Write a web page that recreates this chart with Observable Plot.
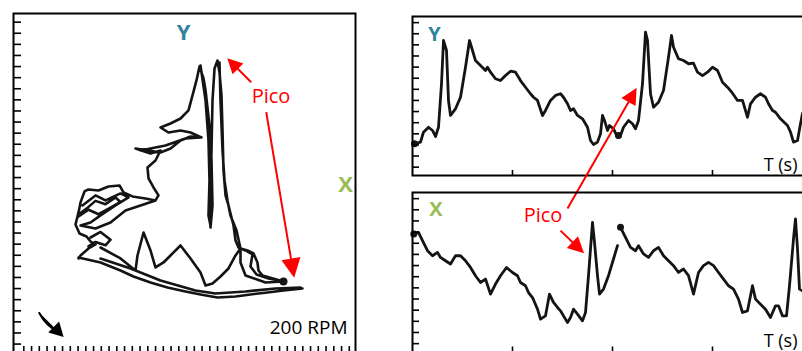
<!DOCTYPE html>
<html><head><meta charset="utf-8">
<script src="https://cdn.jsdelivr.net/npm/d3@7"></script>
<script src="https://cdn.jsdelivr.net/npm/@observablehq/plot@0.6"></script>
<style>
html,body{margin:0;padding:0;background:#fff;overflow:hidden;}
#chart{position:relative;width:802px;height:351px;overflow:hidden;background:#fff;}
#chart svg{position:absolute;left:0;top:0;max-width:none !important;}
</style></head><body><div id="chart"></div>
<script>
// ---------- Orbit (Y vs X), strokes separated by null ----------
const orbitX = [
 33.51,31.57,30.03,29.25,29.51,28.61,27.70,27.32,27.06,26.41,26.03,25.77,25.64,25.51,25.25,24.99,24.61,24.35,24.22,24.09,
 24.09,24.35,24.22,23.96,23.45,23.19,22.67,22.28,21.77,21.25,20.22,18.93,17.64,18.67,20.22,21.51,22.93,21.51,20.22,18.93,
 17.64,16.09,14.41,16.35,17.64,16.99,15.96,16.09,16.74,17.38,16.99,15.70,14.03,12.86,12.35,10.93,9.64,8.35,7.83,7.32,
 7.06,6.67,7.19,8.09,8.61,9.25,8.35,7.32,7.06, null,
 7.06,9.90,12.48,14.15,16.35,18.54,20.86,22.80,24.99,27.32,29.25,31.45,33.51,35.96, null,
 9.90,13.77,17.64,22.15,24.74,28.61,32.48,35.70, null,
 9.90,12.48,14.41,14.67,15.45,16.35,16.99,18.03,18.93,20.22,21.51,22.80,23.45,24.35,25.38,26.41,27.32,27.96,28.86,29.64,30.15,30.28,30.80,33.51, null,
 22.80,23.45,23.83,23.96,23.83,24.09, null,
 25.25,25.38,25.64,25.90,26.28,26.67,27.45,27.96,27.96,28.61,31.19,33.51, null,
 7.57,9.25,10.54,12.48,13.51,11.83,9.90,8.61,7.32,9.25,11.19,13.12,15.06,16.99, null,
 15.06,18.28,20.86,22.80, null,
 7.06,8.35,9.64,11.19,12.48,11.83,10.54,9.25,8.09,7.32, null,
 8.61,9.90,11.19,10.54,9.25,8.35
];
const orbitY = [
 5.64,5.91,6.27,6.99,8.07,8.43,8.70,9.33,10.68,12.49,13.39,15.64,19.24,22.40,24.47,25.55,24.83,21.95,17.44,13.84,
 10.50,12.49,16.54,19.69,22.85,23.93,25.01,23.75,22.40,21.05,20.32,19.87,19.51,19.06,19.24,19.06,18.61,18.70,18.34,17.62,
 17.26,17.44,17.62,17.17,17.44,16.54,15.91,14.92,14.11,13.39,12.94,13.12,13.30,13.66,14.29,14.20,13.84,13.93,13.75,12.76,
 11.86,10.77,9.96,9.69,9.24,8.97,8.61,7.98,7.71, null,
 7.80,7.35,6.63,6.09,5.55,5.10,4.74,4.47,4.20,4.29,4.47,4.65,4.83,5.01, null,
 7.71,6.81,5.73,4.83,4.56,4.74,5.01,5.10, null,
 8.70,7.71,6.63,7.98,10.05,8.43,6.90,7.35,7.98,8.88,7.71,6.45,5.28,5.46,6.09,6.81,7.98,8.61,8.43,8.16,7.35,6.63,6.18,5.64, null,
 25.10,21.95,18.34,14.74,11.59,10.68, null,
 25.37,21.95,17.44,14.74,12.94,11.59,10.23,8.61,7.35,6.18,5.55,5.64, null,
 12.49,13.39,12.94,13.57,13.21,12.49,11.59,10.95,10.68,10.41,10.95,12.04,12.49,12.94, null,
 17.44,17.89,18.52,18.61, null,
 11.50,12.10,11.70,12.30,12.80,13.20,12.60,12.90,12.20,11.80, null,
 9.60,10.10,9.40,8.90,9.20,8.80
];
const orbitMarkX = [33.51];
const orbitMarkY = [5.64];

// ---------- Time series ----------
const yT = [0.01,0.08,0.11,0.16,0.20,0.23,0.26,0.29,0.31,0.34,0.36,0.38,0.43,0.48,0.53,0.57,0.60,0.63,0.68,0.73,
 0.75,0.78,0.83,0.88,0.93,0.98,1.03,1.08,1.13,1.18,1.21,1.25,1.30,1.33,1.38,1.43,1.48,1.51,1.55,1.58,
 1.61,1.65,1.70,1.75,1.78,1.81,1.85,1.88,1.90,1.92,1.95,1.97,2.01,2.05,2.08,2.11,2.16,2.20,2.23,2.26,
 2.30,2.33,2.35,2.38,2.41,2.46,2.51,2.56,2.59,2.61,2.66,2.71,2.76,2.81,2.85,2.90,2.95,3.00,3.05,3.10,
 3.15,3.20,3.25,3.30,3.35,3.38,3.43,3.48,3.53,3.56,3.60,3.63,3.68,3.75,3.78,3.81,3.85,3.88,3.90];
const yVal = [2.10,2.25,3.15,3.59,3.30,2.76,3.59,7.50,11.39,10.49,6.00,4.65,5.25,6.29,8.99,11.39,10.49,9.59,9.14,8.69,
 8.99,8.54,7.95,7.79,8.24,8.63,8.54,7.79,7.19,6.60,6.29,6.00,4.65,5.10,6.00,6.45,6.60,6.29,5.70,5.10,
 5.25,4.65,4.35,3.59,2.40,2.04,2.25,3.00,4.65,4.20,3.30,3.75,3.45,2.70,2.85,3.59,4.20,3.90,3.45,4.20,
 7.50,12.14,11.39,6.60,5.39,5.84,6.90,9.89,11.84,10.79,9.75,9.59,9.30,9.35,8.54,8.24,8.54,8.99,8.69,7.64,
 7.19,6.65,6.00,6.00,4.49,5.70,6.29,6.60,6.29,5.70,5.10,4.94,4.35,3.75,3.15,2.25,2.40,3.90,4.83];
const yMarkT = [0.02, 2.06];
const yMarkV = [2.10, 2.85];

const xT = [0.01,0.06,0.10,0.15,0.20,0.25,0.28,0.33,0.38,0.43,0.48,0.53,0.58,0.63,0.68,0.73,0.78,0.83,0.88,0.94,
 1.00,1.05,1.08,1.13,1.16,1.20,1.25,1.28,1.33,1.37,1.41,1.45,1.48,1.51,1.55,1.58,1.61,1.65,1.70,1.73,
 1.76,1.80,1.82,1.85,1.87,1.91,1.96,2.01,2.05,2.06,
 2.08,2.13,2.18,2.23,2.26,2.31,2.36,2.41,2.46,2.51,2.56,2.61,2.66,2.71,2.76,2.81,2.86,2.91,2.96,3.01,
 3.06,3.11,3.16,3.21,3.26,3.30,3.35,3.40,3.43,3.48,3.53,3.58,3.63,3.66,3.70,3.74,3.77,3.81,3.83,3.85,3.87,3.90];
const xVal = [9.84,9.98,9.23,8.33,7.88,8.18,7.73,7.43,7.14,7.88,7.88,7.43,6.83,6.09,5.48,5.79,4.44,5.34,6.09,6.83,
 6.38,6.09,5.48,5.19,4.58,4.13,3.09,2.19,2.49,4.44,3.69,3.24,2.94,2.49,1.89,2.34,3.09,2.64,2.04,2.79,
 6.09,10.88,9.08,6.09,4.44,4.89,6.09,7.59,8.78,null,
 10.43,9.53,8.63,8.33,8.78,8.04,7.73,8.33,8.63,7.88,7.43,6.99,6.38,6.69,6.09,4.44,6.38,6.99,7.28,6.99,
 6.38,5.79,5.19,4.89,3.99,2.79,2.94,5.19,3.99,3.54,3.09,2.34,3.39,3.39,2.49,2.49,5.19,9.39,11.18,8.49,4.89,4.74];
const xMarkT = [0.013, 2.08];
const xMarkV = [9.84, 10.43];

// ---------- Ticks & labels ----------
const orbitTicksX = d3.range(0, 43);
const orbitTicksY = d3.range(0, 30);
const timeTicks = [1, 2, 3];
const ampTicks = d3.range(0, 14);

const orbitLabelY = [{x: 20.61, y: 28.03, text: "Y"}];
const orbitLabelX = [{x: 41.51, y: 14.33, text: "X"}];
const orbitPico = [{x: 31.90, y: 22.31, text: "Pico"}];
const orbitSpeed = [{x: 41.77, y: 1.45, text: "200 RPM"}];
const orbitArrows = [
  {x1: 29.34, y1: 23.59, x2: 26.45, y2: 25.61},
  {x1: 31.28, y1: 20.89, x2: 34.84, y2: 6.18}
];
const turnArrow = {x1: 1.94, y1: 2.87, x2: 4.95, y2: 0.77};

const topLabels = [{t: 0.22, v: 11.89, text: "Y"}];
const topAxisTitle = [{t: 3.85, v: 0.15, text: "T (s)"}];
const topArrow = {x1: 1.55, y1: -3.72, x2: 2.23, y2: 6.96};
const botLabels = [{t: 0.235, v: 11.98, text: "X"}];
const botNotes = [{t: 1.305, v: 11.48, text: "Pico"}];
const botAxisTitle = [{t: 3.85, v: 0.24, text: "T (s)"}];
const botArrow = {x1: 1.48, y1: 10.13, x2: 1.70, y2: 8.24};

// ---------- Drawing ----------
const W = 820, H = 353;
const FONT = "'Open Sans', 'DejaVu Sans', sans-serif";
const INK = "#141414", RED = "#ff0000", TEAL = "#31849b", GREEN = "#9bbb59";
const style = {background: "transparent", overflow: "visible", fontFamily: FONT, maxWidth: "none"};

function headShape(head, half, bulge = 0) {
  return {draw(ctx, l) {
    ctx.moveTo(0, 0);
    if (bulge) ctx.quadraticCurveTo(bulge, -l / 2, 0, -(l - head * 0.7));
    else ctx.lineTo(0, -(l - head * 0.7));
    ctx.moveTo(0, -l); ctx.lineTo(-half, -l + head); ctx.lineTo(half, -l + head); ctx.closePath();
  }};
}
function arrowMark(sx, sy, a, color, sw, head, half, bulge) {
  const x1 = sx.apply(a.x1), y1 = sy.apply(a.y1), x2 = sx.apply(a.x2), y2 = sy.apply(a.y2);
  const dx = x2 - x1, dy = y2 - y1;
  return Plot.vector([a], {x: "x1", y: "y1", length: Math.hypot(dx, dy),
    rotate: Math.atan2(dx, -dy) * 180 / Math.PI, anchor: "start",
    shape: headShape(head, half, bulge), stroke: color, fill: color, strokeWidth: sw,
    strokeLinejoin: "miter", strokeLinecap: "butt"});
}

const chart = document.getElementById("chart");

// Left: orbit
{
  const xs = {domain: [-1.33, 42.8], range: [13, 355]};
  const ys = {domain: [-0.76, 29.78], range: [352, 13]};
  const sx = Plot.scale({x: xs}), sy = Plot.scale({y: ys});
  const orbit = orbitX.map((x, i) => ({x, y: orbitY[i]}));
  const p = Plot.plot({
    width: W, height: H, marginLeft: 13, marginRight: W - 355, marginTop: 13, marginBottom: H - 352,
    style, x: {domain: xs.domain}, y: {domain: ys.domain},
    marks: [
      Plot.line(orbit, {x: "x", y: "y", stroke: INK, strokeWidth: 2.6, strokeLinejoin: "round", clip: true}),
      Plot.dot(orbitMarkX.map((x, i) => ({x, y: orbitMarkY[i]})), {x: "x", y: "y", r: 4, fill: INK}),
      Plot.axisY(orbitTicksY, {anchor: "left", tickSize: 8, dx: 8, fill: "none", stroke: "black", strokeWidth: 1.6}),
      Plot.axisX(orbitTicksX, {anchor: "bottom", tickSize: 6, dy: -6, fill: "none", stroke: "black", strokeWidth: 1.6}),
      Plot.frame({stroke: "black", strokeWidth: 2}),
      Plot.text(orbitLabelY, {x: "x", y: "y", text: "text", fontSize: 22, fontWeight: "bold", fill: TEAL, textAnchor: "middle"}),
      Plot.text(orbitLabelX, {x: "x", y: "y", text: "text", fontSize: 22, fontWeight: "bold", fill: GREEN, textAnchor: "middle"}),
      Plot.text(orbitPico, {x: "x", y: "y", text: "text", fontSize: 20, fill: RED, textAnchor: "middle"}),
      Plot.text(orbitSpeed, {x: "x", y: "y", text: "text", fontSize: 19, fill: "black", textAnchor: "end"}),
      ...orbitArrows.map((a, i) => arrowMark(sx, sy, a, RED, 2, i ? 16 : 12, i ? 8 : 6)),
      arrowMark(sx, sy, turnArrow, "black", 2, 11, 6, 5)
    ]
  });
  chart.appendChild(p);
}

// Top right: Y vs time
{
  const xs = {domain: [0, 4], range: [412, 812]};
  const ys = {domain: [-0.75, 13.55], range: [175, 16]};
  const sx = Plot.scale({x: xs}), sy = Plot.scale({y: ys});
  const series = yT.map((t, i) => ({t, v: yVal[i]}));
  const p = Plot.plot({
    width: W, height: H, marginLeft: 412, marginRight: W - 812, marginTop: 16, marginBottom: H - 175,
    style, x: {domain: xs.domain}, y: {domain: ys.domain},
    marks: [
      Plot.line(series, {x: "t", y: "v", stroke: INK, strokeWidth: 2.8, strokeLinejoin: "round", clip: true}),
      Plot.dot(yMarkT.map((t, i) => ({t, v: yMarkV[i]})), {x: "t", y: "v", r: 3.5, fill: INK}),
      Plot.axisY(ampTicks, {anchor: "left", tickSize: 7, dx: 7, fill: "none", stroke: "black", strokeWidth: 1.6}),
      Plot.axisX(timeTicks, {anchor: "bottom", tickSize: 5, dy: -5, fill: "none", stroke: "black", strokeWidth: 1.6}),
      Plot.frame({stroke: "black", strokeWidth: 2}),
      Plot.text(topLabels, {x: "t", y: "v", text: "text", fontSize: 20, fontWeight: "bold", fill: TEAL}),
      Plot.text(topAxisTitle, {x: "t", y: "v", text: "text", fontSize: 18, fill: "black", textAnchor: "end"}),
      arrowMark(sx, sy, topArrow, RED, 2, 13, 6.5)
    ]
  });
  chart.appendChild(p);
}

// Bottom right: X vs time
{
  const xs = {domain: [0, 4], range: [412, 812]};
  const ys = {domain: [-0.75, 13.55], range: [351.5, 192]};
  const sx = Plot.scale({x: xs}), sy = Plot.scale({y: ys});
  const series = xT.map((t, i) => ({t, v: xVal[i]}));
  const p = Plot.plot({
    width: W, height: H, marginLeft: 412, marginRight: W - 812, marginTop: 192, marginBottom: H - 351.5,
    style, x: {domain: xs.domain}, y: {domain: ys.domain},
    marks: [
      Plot.line(series, {x: "t", y: "v", stroke: INK, strokeWidth: 2.8, strokeLinejoin: "round", clip: true}),
      Plot.dot(xMarkT.map((t, i) => ({t, v: xMarkV[i]})), {x: "t", y: "v", r: 3.5, fill: INK}),
      Plot.axisY(ampTicks, {anchor: "left", tickSize: 7, dx: 7, fill: "none", stroke: "black", strokeWidth: 1.6}),
      Plot.axisX(timeTicks, {anchor: "bottom", tickSize: 5, dy: -5, fill: "none", stroke: "black", strokeWidth: 1.6}),
      Plot.frame({stroke: "black", strokeWidth: 2}),
      Plot.text(botLabels, {x: "t", y: "v", text: "text", fontSize: 20, fontWeight: "bold", fill: GREEN}),
      Plot.text(botNotes, {x: "t", y: "v", text: "text", fontSize: 20, fill: RED}),
      Plot.text(botAxisTitle, {x: "t", y: "v", text: "text", fontSize: 18, fill: "black", textAnchor: "end"}),
      arrowMark(sx, sy, botArrow, RED, 2, 13, 6.5)
    ]
  });
  chart.appendChild(p);
}
</script></body></html>
